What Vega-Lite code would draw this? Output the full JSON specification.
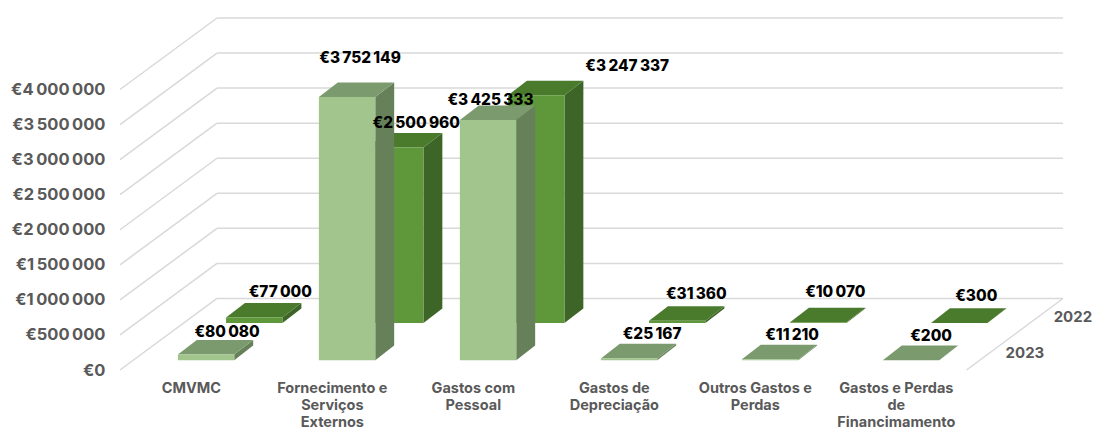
{
"$schema":"https://vega.github.io/schema/vega-lite/v6.json",
"width":1095,"height":429,"padding":0,"autosize":{"type":"none"},"background":"white",
"config":{"view":{"stroke":null}},
"resolve":{"axis":{"y":"independent"}},
"datasets":{
"bars":[
{"slot":0,"category":"CMVMC","year":2023,"value":80080},
{"slot":1,"category":"Fornecimento e|Serviços|Externos","year":2023,"value":3752149},
{"slot":2,"category":"Gastos com|Pessoal","year":2023,"value":3425333},
{"slot":3,"category":"Gastos de|Depreciação","year":2023,"value":25167},
{"slot":4,"category":"Outros Gastos e|Perdas","year":2023,"value":11210},
{"slot":5,"category":"Gastos e Perdas|de|Financimamento","year":2023,"value":200},
{"slot":0,"category":"CMVMC","year":2022,"value":77000},
{"slot":1,"category":"Fornecimento e|Serviços|Externos","year":2022,"value":2500960},
{"slot":2,"category":"Gastos com|Pessoal","year":2022,"value":3247337},
{"slot":3,"category":"Gastos de|Depreciação","year":2022,"value":31360},
{"slot":4,"category":"Outros Gastos e|Perdas","year":2022,"value":10070},
{"slot":5,"category":"Gastos e Perdas|de|Financimamento","year":2022,"value":300}
],
"ticks":[{"tick":0},{"tick":500000},{"tick":1000000},{"tick":1500000},{"tick":2000000},{"tick":2500000},{"tick":3000000},{"tick":3500000},{"tick":4000000}],
"rows":[{"year":"2023","row":0},{"year":"2022","row":1}]
},
"layer":[
{"data":{"name":"ticks"},"transform":[{"calculate":"datum.tick+1020000","as":"back"},{"calculate":"0","as":"a"},{"calculate":"0.688","as":"b"},{"calculate":"6.688","as":"c"}],
 "resolve":{"axis":{"y":"independent"}},
 "layer":[
 {"mark":{"type":"rule","color":"#D9D9D9","strokeWidth":1.5},
  "encoding":{
   "x":{"field":"a","type":"quantitative","scale":{"domain":[-0.85106,6.91489],"nice":false,"zero":false},"axis":null},
   "x2":{"field":"b"},
   "y":{"field":"tick","type":"quantitative","title":null,"scale":{"domain":[-841415,5276669],"nice":false,"zero":false},
    "axis":{"values":[0,500000,1000000,1500000,2000000,2500000,3000000,3500000,4000000],"offset":-105,"domain":false,"ticks":false,"grid":false,"labelPadding":0,"labelFont":"Inter","labelFontWeight":700,"labelFontSize":16.5,"labelColor":"#595959","labelExpr":"'€'+replace(format(datum.value,','),/,/g,'\u2009')"}},
   "y2":{"field":"back"}}},
 {"mark":{"type":"rule","color":"#D9D9D9","strokeWidth":1.5},
  "encoding":{
   "x":{"field":"b","type":"quantitative","scale":{"domain":[-0.85106,6.91489],"nice":false,"zero":false},"axis":null},
   "x2":{"field":"c"},
   "y":{"field":"back","type":"quantitative","scale":{"domain":[-841415,5276669],"nice":false,"zero":false},"axis":null}}},
 {"transform":[{"filter":"datum.tick==0"},{"calculate":"6.004","as":"d"}],
  "mark":{"type":"rule","color":"#D9D9D9","strokeWidth":1.5},
  "encoding":{
   "x":{"field":"d","type":"quantitative","scale":{"domain":[-0.85106,6.91489],"nice":false,"zero":false},"axis":null},
   "x2":{"field":"c"},
   "y":{"field":"tick","type":"quantitative","scale":{"domain":[-841415,5276669],"nice":false,"zero":false},"axis":null},
   "y2":{"field":"back"}}}
 ]},
{"data":{"name":"bars"},
 "transform":[{"filter":"datum.year==2022"},
  {"calculate":"1.29","as":"d0"},
  {"calculate":"datum.slot+0.32+datum.d0*0.335","as":"xL"},{"calculate":"datum.xL+0.4","as":"xR"},
  {"calculate":"datum.d0*520000","as":"yBase"},{"calculate":"datum.yBase+datum.value","as":"yTop"},
  {"calculate":"[0,1]","as":"t"},{"flatten":["t"]},
  {"calculate":"datum.xR+datum.t*0.134","as":"sx"},{"calculate":"datum.xL+datum.t*0.134","as":"tx1"},
  {"calculate":"datum.yBase+datum.t*208000","as":"sy1"},{"calculate":"datum.yTop+datum.t*208000","as":"sy2"}],
 "layer":[
 {"mark":{"type":"area","orient":"vertical","color":"#3E6528"},
  "encoding":{"detail":{"field":"slot"},
   "x":{"field":"sx","type":"quantitative","scale":{"domain":[-0.85106,6.91489],"nice":false,"zero":false},"axis":null},
   "y":{"field":"sy1","type":"quantitative","scale":{"domain":[-841415,5276669],"nice":false,"zero":false},"axis":null},
   "y2":{"field":"sy2"}}},
 {"mark":{"type":"area","orient":"horizontal","color":"#4A7A2C"},
  "encoding":{"detail":{"field":"slot"},
   "y":{"field":"sy2","type":"quantitative","scale":{"domain":[-841415,5276669],"nice":false,"zero":false},"axis":null},
   "x":{"field":"tx1","type":"quantitative","scale":{"domain":[-0.85106,6.91489],"nice":false,"zero":false},"axis":null},
   "x2":{"field":"sx"}}},
 {"transform":[{"filter":"datum.t==0"}],"mark":{"type":"rect","color":"#5F983B"},
  "encoding":{
   "x":{"field":"xL","type":"quantitative","scale":{"domain":[-0.85106,6.91489],"nice":false,"zero":false},"axis":null},
   "x2":{"field":"xR"},
   "y":{"field":"yBase","type":"quantitative","scale":{"domain":[-841415,5276669],"nice":false,"zero":false},"axis":null},
   "y2":{"field":"yTop"}}}
 ]},
{"data":{"name":"bars"},
 "transform":[{"filter":"datum.year==2023"},
  {"calculate":"0.27","as":"d0"},
  {"calculate":"datum.slot+0.32+datum.d0*0.335","as":"xL"},{"calculate":"datum.xL+0.4","as":"xR"},
  {"calculate":"datum.d0*520000","as":"yBase"},{"calculate":"datum.yBase+datum.value","as":"yTop"},
  {"calculate":"[0,1]","as":"t"},{"flatten":["t"]},
  {"calculate":"datum.xR+datum.t*0.134","as":"sx"},{"calculate":"datum.xL+datum.t*0.134","as":"tx1"},
  {"calculate":"datum.yBase+datum.t*208000","as":"sy1"},{"calculate":"datum.yTop+datum.t*208000","as":"sy2"}],
 "layer":[
 {"mark":{"type":"area","orient":"vertical","color":"#66805A"},
  "encoding":{"detail":{"field":"slot"},
   "x":{"field":"sx","type":"quantitative","scale":{"domain":[-0.85106,6.91489],"nice":false,"zero":false},"axis":null},
   "y":{"field":"sy1","type":"quantitative","scale":{"domain":[-841415,5276669],"nice":false,"zero":false},"axis":null},
   "y2":{"field":"sy2"}}},
 {"mark":{"type":"area","orient":"horizontal","color":"#7B9B6E"},
  "encoding":{"detail":{"field":"slot"},
   "y":{"field":"sy2","type":"quantitative","scale":{"domain":[-841415,5276669],"nice":false,"zero":false},"axis":null},
   "x":{"field":"tx1","type":"quantitative","scale":{"domain":[-0.85106,6.91489],"nice":false,"zero":false},"axis":null},
   "x2":{"field":"sx"}}},
 {"transform":[{"filter":"datum.t==0"}],"mark":{"type":"rect","color":"#A1C58C"},
  "encoding":{
   "x":{"field":"xL","type":"quantitative","scale":{"domain":[-0.85106,6.91489],"nice":false,"zero":false},"axis":null},
   "x2":{"field":"xR"},
   "y":{"field":"yBase","type":"quantitative","scale":{"domain":[-841415,5276669],"nice":false,"zero":false},"axis":null},
   "y2":{"field":"yTop"}}}
 ]},
{"data":{"name":"bars"},
 "transform":[
  {"calculate":"datum.year==2023?0.27:1.29","as":"d0"},
  {"calculate":"({'0-2023':[21,-22.8],'1-2023':[13,-39],'2-2023':[2.4,-20],'3-2023':[23,-24],'4-2023':[22,-24.4],'5-2023':[20,-24],'0-2022':[26,-25.6],'1-2022':[21,-24.6],'2-2022':[91,-29],'3-2022':[19,-27],'4-2022':[17,-30],'5-2022':[17,-27]})[datum.slot+'-'+datum.year]","as":"off"},
  {"calculate":"datum.slot+0.52+datum.d0*0.335+datum.off[0]/141","as":"lx"},
  {"calculate":"datum.d0*520000+datum.value-datum.off[1]*14261","as":"ly"},
  {"calculate":"'€'+replace(format(datum.value,','),/,/g,'\u2009')","as":"label"}],
 "mark":{"type":"text","font":"Inter","fontWeight":800,"fontSize":15.4,"color":"#000000","align":"center","baseline":"middle"},
 "encoding":{
  "x":{"field":"lx","type":"quantitative","scale":{"domain":[-0.85106,6.91489],"nice":false,"zero":false},"axis":null},
  "y":{"field":"ly","type":"quantitative","scale":{"domain":[-841415,5276669],"nice":false,"zero":false},"axis":null},
  "text":{"field":"label"}}},
{"data":{"name":"bars"},
 "transform":[{"filter":"datum.year==2023"},{"calculate":"datum.slot+0.506","as":"cx"},{"calculate":"-171000","as":"cy"}],
 "mark":{"type":"text","font":"Inter","fontWeight":700,"fontSize":14.5,"color":"#595959","align":"center","baseline":"top","lineBreak":"|","lineHeight":17},
 "encoding":{
  "x":{"field":"cx","type":"quantitative","scale":{"domain":[-0.85106,6.91489],"nice":false,"zero":false},"axis":null},
  "y":{"field":"cy","type":"quantitative","scale":{"domain":[-841415,5276669],"nice":false,"zero":false},"axis":null},
  "text":{"field":"category"}}},
{"data":{"name":"rows"},
 "transform":[{"calculate":"6.418+datum.row*0.34","as":"rx"},{"calculate":"246700+datum.row*513000","as":"ry"}],
 "mark":{"type":"text","font":"Inter","fontWeight":700,"fontSize":15,"color":"#595959","align":"center","baseline":"middle"},
 "encoding":{
  "x":{"field":"rx","type":"quantitative","scale":{"domain":[-0.85106,6.91489],"nice":false,"zero":false},"axis":null},
  "y":{"field":"ry","type":"quantitative","scale":{"domain":[-841415,5276669],"nice":false,"zero":false},"axis":null},
  "text":{"field":"year"}}}
]}
